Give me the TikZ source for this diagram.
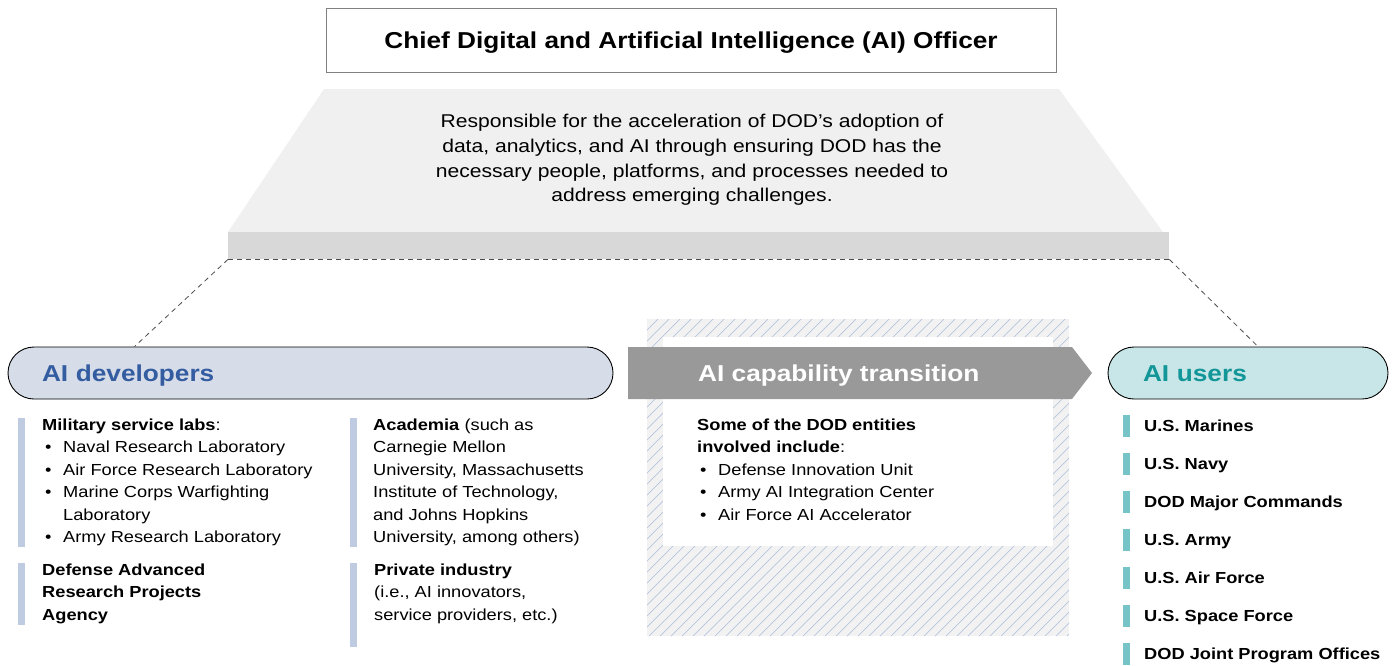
\documentclass[tikz,border=0pt]{standalone}
\usepackage{fontspec}
\setmainfont{Liberation Sans}[FakeStretch=1.14]
\usepackage{tikz}
\usetikzlibrary{positioning,calc}
\definecolor{titleline}{RGB}{128,128,128}
\definecolor{roletop}{RGB}{240,240,240}
\definecolor{roleband}{RGB}{216,216,216}
\definecolor{devfill}{RGB}{214,221,233}
\definecolor{devtext}{RGB}{52,92,160}
\definecolor{devbar}{RGB}{190,203,224}
\definecolor{userfill}{RGB}{200,230,231}
\definecolor{usertext}{RGB}{18,150,152}
\definecolor{userbar}{RGB}{118,196,199}
\definecolor{xferfill}{RGB}{153,153,153}
\definecolor{hatchbg}{RGB}{242,242,242}
\definecolor{hatchline}{RGB}{184,197,221}
\newcommand\bul{\makebox[21pt][l]{\hspace{3pt}\textbullet}}

\begin{document}
\begin{tikzpicture}[x=1pt,y=-1pt,
  headfont/.style={font=\fontsize{23pt}{26pt}\selectfont\bfseries},
  listfont/.style={font=\fontsize{16pt}{22.5pt}\selectfont},
  pill/.style={rectangle,rounded corners=26pt,draw=black,line width=0.9pt,
    minimum height=52pt,inner ysep=0pt,align=left,headfont,
    text height=16.5pt,text depth=0pt},
  listbox/.style={anchor=north west,inner sep=0pt,align=left,listfont},
  bar/.style={fill=devbar},
  tie/.style={dash pattern=on 5pt off 4pt,draw=black!70,line width=0.8pt}]
\useasboundingbox (0,0) rectangle (1395,665);
% top: officer and role
\node[draw=titleline,line width=0.8pt,minimum width=730pt,minimum height=64pt,
  headfont,text height=16.5pt,text depth=0pt] (cdao) at (691,40) {Chief Digital and Artificial Intelligence (AI) Officer};
\fill[roletop] (324,89) -- (1059,89) -- (1163,232) -- (228,232) -- cycle;
\node[fill=roleband,minimum width=941pt,minimum height=27pt,inner sep=0pt,anchor=north west] (band) at (228,232) {};
\node[anchor=north,inner sep=0pt,align=center,font=\fontsize{18.5pt}{24.7pt}\selectfont] (role) at (692,114)
  {Responsible for the acceleration of DOD’s adoption of\\
   data, analytics, and AI through ensuring DOD has the\\
   necessary people, platforms, and processes needed to\\
   address emerging challenges.};
% transition area
\fill[hatchbg] (647,319) rectangle (1069,636);
\begin{scope}
\clip (647,319) rectangle (1069,636);
\foreach \k in {330,341,...,1069} {
  \draw[hatchline,line width=0.7pt] (\k,636) -- ++(317,-317);
}
\end{scope}
\fill[white] (663,337) rectangle (1053,546);
\fill[xferfill] (628,347) -- (1072,347) -- (1092,373) -- (1072,399) -- (628,399) -- cycle;
\node[anchor=west,inner sep=0pt,headfont,text=white,text height=16.5pt,text depth=0pt] (xfer) at (698,373) {AI capability transition};
\node[listbox] (entities) at (697,418.5)
  {\textbf{Some of the DOD entities}\\
   \textbf{involved include}:\\
   \bul Defense Innovation Unit\\
   \bul Army AI Integration Center\\
   \bul Air Force AI Accelerator};
% developers and users
\node[pill,fill=devfill,text=devtext,inner xsep=34pt,text width=537pt] (devs) at (310.5,373) {AI developers};
\node[pill,fill=userfill,text=usertext,inner xsep=35pt,text width=210pt] (users) at (1248,373) {AI users};
\coordinate (devtip) at ([xshift=127pt]devs.north west);
\coordinate (usertip) at ([xshift=10pt]users.north);
\draw[tie] (band.south west) -- (band.south east);
\draw[tie] (band.south west) -- (devtip);
\draw[tie] (band.south east) -- (usertip);
% developer lists
\fill[bar] (18,418) rectangle (25,547);
\fill[bar] (18,563) rectangle (25,625);
\fill[bar] (350,418) rectangle (357,547);
\fill[bar] (350,563) rectangle (357,647);
\node[listbox] (labs) at (42,418.5)
  {\textbf{Military service labs}:\\
   \bul Naval Research Laboratory\\
   \bul Air Force Research Laboratory\\
   \bul Marine Corps Warfighting\\
   \hspace*{21pt}Laboratory\\
   \bul Army Research Laboratory};
\node[listbox,font=\fontsize{16pt}{22.5pt}\selectfont\bfseries] (darpa) at (42,563.5)
  {Defense Advanced\\ Research Projects\\ Agency};
\node[listbox] (academia) at (373,418.5)
  {\textbf{Academia} (such as\\
   Carnegie Mellon\\
   University, Massachusetts\\
   Institute of Technology,\\
   and Johns Hopkins\\
   University, among others)};
\node[listbox] (industry) at (374,563.5)
  {\textbf{Private industry}\\
   (i.e., AI innovators,\\
   service providers, etc.)};
% user list
\foreach \name [count=\i] in {U.S. Marines,U.S. Navy,DOD Major Commands,U.S. Army,
    U.S. Air Force,U.S. Space Force,DOD Joint Program Offices} {
  \fill[userbar] (1123,{415+38*(\i-1)}) rectangle ++(7,22);
  \node[anchor=west,inner sep=0pt,font=\fontsize{16pt}{22.5pt}\selectfont\bfseries,
    text height=11.5pt,text depth=0pt] (user\i) at (1144,{426+38*(\i-1)}) {\name};
}
\end{tikzpicture}
\end{document}
